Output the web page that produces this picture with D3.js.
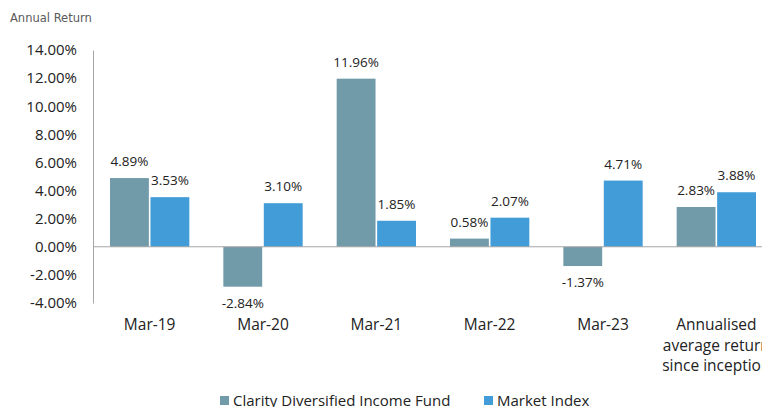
<!DOCTYPE html>
<html>
<head>
<meta charset="utf-8">
<script src="https://cdn.jsdelivr.net/npm/d3@7"></script>
<style>
  body { margin: 0; background: #fff; }
  svg { display: block; }
</style>
</head>
<body>
<div id="chart"></div>
<script>
var categories = ["Mar-19", "Mar-20", "Mar-21", "Mar-22", "Mar-23", "Annualised average return since inception"];
var categoryLines = [["Mar-19"], ["Mar-20"], ["Mar-21"], ["Mar-22"], ["Mar-23"], ["Annualised", "average return", "since inception"]];
var fundValues = [4.89, -2.84, 11.96, 0.58, -1.37, 2.83];
var indexValues = [3.53, 3.10, 1.85, 2.07, 4.71, 3.88];
var seriesNames = ["Clarity Diversified Income Fund", "Market Index"];
var yTicks = [-4, -2, 0, 2, 4, 6, 8, 10, 12, 14];

var colors = ["#729BAA", "#429CD7"];
var font = "'Open Sans', sans-serif";

var width = 762, height = 407;
var margin = {top: 50, left: 93};
var plotW = 680, plotH = 253;

var svg = d3.select("#chart")
  .append("svg")
    .attr("width", width)
    .attr("height", height);

svg.append("text")
  .attr("x", 10).attr("y", 22)
  .attr("font-family", "'DejaVu Sans', sans-serif")
  .attr("font-size", 11.5)
  .attr("fill", "#595959")
  .text("Annual Return");

var g = svg.append("g")
  .attr("transform", "translate(" + margin.left + "," + margin.top + ")");

var x = d3.scaleBand()
  .domain(categories)
  .range([0, plotW])
  .paddingInner(0.3)
  .paddingOuter(0.15);

var x1 = d3.scaleBand()
  .domain([0, 1])
  .range([0, x.bandwidth()])
  .paddingInner(0.04);

var y = d3.scaleLinear()
  .domain([-4, 14])
  .range([plotH, 0]);

// y axis labels
var yAxis = g.append("g")
  .call(d3.axisLeft(y).tickValues(yTicks).tickSize(0).tickPadding(16)
    .tickFormat(function (d) { return d.toFixed(2) + "%"; }));
yAxis.select(".domain").attr("stroke", "#a6a6a6");
yAxis.selectAll("text")
  .attr("font-family", font)
  .attr("font-size", 15)
  .attr("fill", "#222");

// bars
var data = categories.map(function (c, i) {
  return {cat: c, vals: [fundValues[i], indexValues[i]]};
});

var groups = g.selectAll(".grp")
  .data(data)
  .enter().append("g")
    .attr("class", "grp")
    .attr("transform", function (d) { return "translate(" + x(d.cat) + ",0)"; });

groups.selectAll("rect")
  .data(function (d) { return d.vals.map(function (v, j) { return {v: v, j: j}; }); })
  .enter().append("rect")
    .attr("x", function (d) { return x1(d.j); })
    .attr("width", x1.bandwidth())
    .attr("y", function (d) { return y(Math.max(0, d.v)); })
    .attr("height", function (d) { return Math.abs(y(d.v) - y(0)); })
    .attr("fill", function (d) { return colors[d.j]; });

groups.selectAll("text.lbl")
  .data(function (d) { return d.vals.map(function (v, j) { return {v: v, j: j}; }); })
  .enter().append("text")
    .attr("class", "lbl")
    .attr("x", function (d) { return x1(d.j) + x1.bandwidth() / 2; })
    .attr("y", function (d) { return d.v >= 0 ? y(d.v) - 12 : y(d.v) + 21; })
    .attr("text-anchor", "middle")
    .attr("font-family", font)
    .attr("font-size", 13.5)
    .attr("fill", "#222")
    .text(function (d) { return d.v.toFixed(2) + "%"; });

// zero line
g.append("line")
  .attr("x1", 0).attr("x2", plotW)
  .attr("y1", y(0)).attr("y2", y(0))
  .attr("stroke", "#a6a6a6");

// category labels
categories.forEach(function (c, i) {
  var t = g.append("text")
    .attr("x", x(c) + x.bandwidth() / 2)
    .attr("y", plotH + 27)
    .attr("text-anchor", "middle")
    .attr("font-family", font)
    .attr("font-size", 15.5)
    .attr("fill", "#222");
  categoryLines[i].forEach(function (line, k) {
    t.append("tspan")
      .attr("x", x(c) + x.bandwidth() / 2)
      .attr("dy", k === 0 ? 0 : 20.5)
      .text(line);
  });
});

// legend
var legend = [{color: colors[0], label: seriesNames[0], x: 220}, {color: colors[1], label: seriesNames[1], x: 484}];
svg.selectAll("g.legend").data(legend).enter().append("g")
  .attr("class", "legend")
  .attr("transform", function (d) { return "translate(" + d.x + ",396)"; })
  .each(function (d) {
    d3.select(this).append("rect").attr("width", 9).attr("height", 9).attr("fill", d.color);
    d3.select(this).append("text").attr("x", 13).attr("y", 10)
      .attr("font-family", font).attr("font-size", 15).attr("fill", "#222")
      .text(d.label);
  });
</script>
</body>
</html>
